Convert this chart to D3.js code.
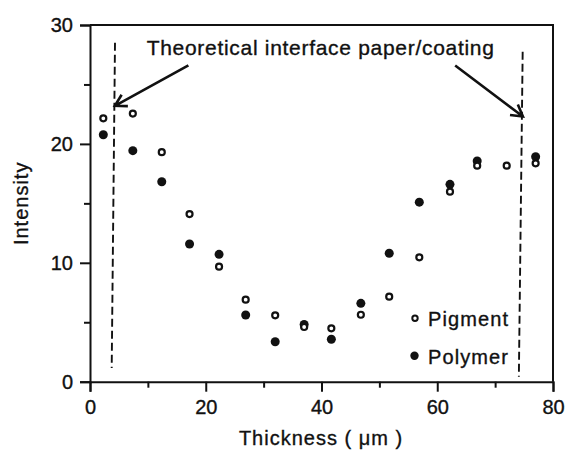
<!DOCTYPE html>
<html>
<head>
<meta charset="utf-8">
<script src="https://cdn.jsdelivr.net/npm/d3@7/dist/d3.min.js"></script>
<style>
  html, body { margin: 0; padding: 0; background: #fff; }
  svg { display: block; }
  text { font-family: "Liberation Sans", Arial, Helvetica, sans-serif; fill: #111; stroke: #111; stroke-width: 0.35; }
</style>
</head>
<body>
<svg id="chart" width="569" height="452"></svg>
<script>
// Depth profile across the coating: intensity vs. thickness
const pigmentX = [2.3, 7.4, 12.4, 17.2, 22.3, 26.9, 32.0, 37.0, 41.7, 46.8, 51.7, 56.9, 62.2, 66.9, 72.0, 77.0];
const pigmentY = [22.15, 22.55, 19.3, 14.1, 9.67, 6.9, 5.58, 4.6, 4.49, 5.63, 7.15, 10.46, 15.98, 18.17, 18.17, 18.37];
const polymerX = [2.3, 7.4, 12.4, 17.2, 22.3, 26.9, 32.0, 37.0, 41.7, 46.8, 51.7, 56.9, 62.2, 66.9, 77.0];
const polymerY = [20.77, 19.43, 16.82, 11.58, 10.71, 5.61, 3.36, 4.81, 3.57, 6.59, 10.8, 15.1, 16.6, 18.56, 18.92];

const xTicks = [0, 20, 40, 60, 80];
const xMinorTicks = [10, 30, 50, 70];
const yTicks = [0, 10, 20, 30];
const yMinorTicks = [5, 15, 25];

// Theoretical paper/coating interfaces (slightly tilted dashed lines) in data units
const interfaceLines = [
  [[4.32, 28.5], [3.75, 1.15]],
  [[74.76, 27.75], [74.1, 0.42]]
];
// Arrows from the annotation text to the interfaces: [tail, tip]
const arrows = [
  [[17.0, 26.6], [4.3, 23.2]],
  [[63.1, 26.6], [74.8, 22.3]]
];
const annotationText = "Theoretical interface paper/coating";
const legendItems = ["Pigment", "Polymer"];

const svg = d3.select("#chart");
const x = d3.scaleLinear().domain([0, 80]).range([90, 553]);
const y = d3.scaleLinear().domain([0, 30]).range([381.7, 25]);

// Frame (top and right edges)
svg.append("path")
  .attr("d", `M${x(0)},${y(30)}H${x(80)}V${y(0)}`)
  .attr("fill", "none").attr("stroke", "#111").attr("stroke-width", 2);

// Bottom axis
svg.append("g").attr("transform", `translate(0,${y(0)})`)
  .call(d3.axisBottom(x).tickValues(xTicks).tickSize(10).tickPadding(8).tickFormat(d3.format("d")));
svg.append("g").attr("transform", `translate(0,${y(0)})`)
  .call(d3.axisBottom(x).tickValues(xMinorTicks).tickSize(6).tickFormat(""))
  .select(".domain").remove();

// Left axis
svg.append("g").attr("transform", `translate(${x(0)},0)`)
  .call(d3.axisLeft(y).tickValues(yTicks).tickSize(10).tickPadding(7).tickFormat(d3.format("d")));
svg.append("g").attr("transform", `translate(${x(0)},0)`)
  .call(d3.axisLeft(y).tickValues(yMinorTicks).tickSize(6).tickFormat(""))
  .select(".domain").remove();

svg.selectAll(".domain").attr("stroke", "#111").attr("stroke-width", 2);
svg.selectAll(".tick line").attr("stroke", "#111").attr("stroke-width", 2);
svg.selectAll(".tick text")
  .attr("font-size", 20)
  .attr("font-family", "Liberation Sans, Arial, sans-serif")
  .attr("fill", "#111");

// Axis titles
svg.append("text")
  .attr("x", 321).attr("y", 445)
  .attr("text-anchor", "middle")
  .attr("font-size", 20).attr("letter-spacing", 1)
  .text("Thickness ( μm )");
svg.append("text")
  .attr("transform", `translate(28,${(y(0) + y(30)) / 2}) rotate(-90)`)
  .attr("text-anchor", "middle")
  .attr("font-size", 20).attr("letter-spacing", 1)
  .text("Intensity");

// Dashed interface lines
svg.selectAll(".interface").data(interfaceLines).join("line")
  .attr("class", "interface")
  .attr("x1", d => x(d[0][0])).attr("y1", d => y(d[0][1]))
  .attr("x2", d => x(d[1][0])).attr("y2", d => y(d[1][1]))
  .attr("stroke", "#111").attr("stroke-width", 1.9)
  .attr("stroke-dasharray", "8,4");

// Annotation text
svg.append("text")
  .attr("x", x(9.8)).attr("y", 55)
  .attr("font-size", 21).attr("letter-spacing", 0.7)
  .text(annotationText);

// Arrows with open V heads
const headLen = 13, headAng = Math.PI / 6;
arrows.forEach(([tail, tip]) => {
  const tx = x(tail[0]), ty = y(tail[1]), px = x(tip[0]), py = y(tip[1]);
  const a = Math.atan2(ty - py, tx - px);
  const p = d3.path();
  p.moveTo(tx, ty); p.lineTo(px, py);
  p.moveTo(px + headLen * Math.cos(a - headAng), py + headLen * Math.sin(a - headAng));
  p.lineTo(px, py);
  p.lineTo(px + headLen * Math.cos(a + headAng), py + headLen * Math.sin(a + headAng));
  svg.append("path").attr("d", p.toString())
    .attr("fill", "none").attr("stroke", "#111").attr("stroke-width", 2.6)
    .attr("stroke-linejoin", "miter");
});

// Data points
const pigment = pigmentX.map((v, i) => [v, pigmentY[i]]);
const polymer = polymerX.map((v, i) => [v, polymerY[i]]);

svg.append("g").selectAll("circle").data(polymer).join("circle")
  .attr("cx", d => x(d[0])).attr("cy", d => y(d[1])).attr("r", 4.5)
  .attr("fill", "#111");
svg.append("g").selectAll("circle").data(pigment).join("circle")
  .attr("cx", d => x(d[0])).attr("cy", d => y(d[1])).attr("r", 3)
  .attr("fill", "#fff").attr("stroke", "#111").attr("stroke-width", 2.2);

// Legend
const legend = svg.append("g");
legendItems.forEach((name, i) => {
  const cy = 318.3 + i * 37.4;
  if (i === 0) {
    legend.append("circle").attr("cx", 415).attr("cy", cy).attr("r", 2.7)
      .attr("fill", "#fff").attr("stroke", "#111").attr("stroke-width", 2);
  } else {
    legend.append("circle").attr("cx", 414.5).attr("cy", cy).attr("r", 4.2)
      .attr("fill", "#111");
  }
  legend.append("text").attr("x", 428).attr("y", cy + 8)
    .attr("font-size", 20).attr("letter-spacing", 1.1)
    .text(name);
});
</script>
</body>
</html>
